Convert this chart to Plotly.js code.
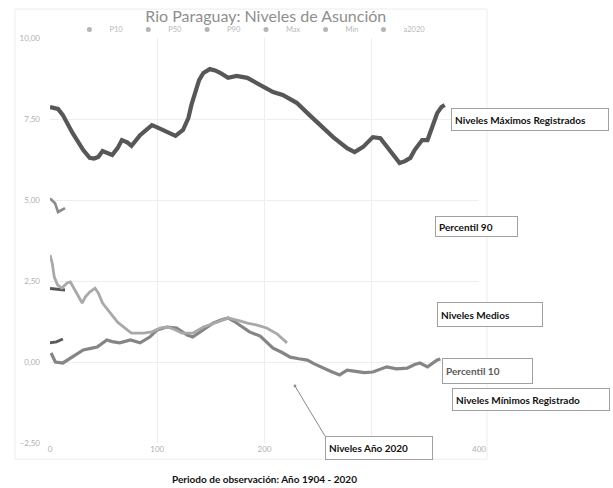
<!DOCTYPE html>
<html>
<head>
<meta charset="utf-8">
<script src="https://cdn.plot.ly/plotly-3.0.1.min.js"></script>
<style>html,body{margin:0;padding:0;background:#fff}#chart{width:613px;height:488px}</style>
</head>
<body>
<div id="chart"></div>
<script>
// ---- Data (day of year, level in m) ----
const maxDays = [0, 4, 7.5, 12, 21, 31, 37, 41, 45, 49, 53, 58, 63, 67, 72, 76, 84, 95, 100, 105, 111, 117, 124, 129, 132, 135, 139, 143, 149, 154, 159, 166, 174, 184, 196, 208, 217, 230, 242, 255, 264, 277, 284, 292, 301, 308, 317, 326, 331, 336, 340, 347, 352, 356, 361, 365, 368];
const maxVals = [7.87, 7.85, 7.81, 7.62, 7.07, 6.54, 6.30, 6.28, 6.33, 6.51, 6.46, 6.39, 6.60, 6.85, 6.78, 6.67, 7.00, 7.31, 7.24, 7.16, 7.06, 6.98, 7.16, 7.53, 7.95, 8.30, 8.70, 8.92, 9.04, 9.00, 8.92, 8.77, 8.83, 8.77, 8.55, 8.33, 8.24, 8.00, 7.62, 7.22, 6.94, 6.60, 6.48, 6.64, 6.94, 6.91, 6.54, 6.14, 6.20, 6.30, 6.54, 6.85, 6.85, 7.25, 7.68, 7.87, 7.93];

const p90Days = [0, 4.7, 7.5, 11, 14];
const p90Vals = [5.05, 4.90, 4.63, 4.69, 4.75];

const minDays = [0, 7, 14];
const minVals = [2.27, 2.25, 2.22];

const p10Days = [0, 6, 12];
const p10Vals = [0.59, 0.62, 0.71];

const p50Days = [1, 5, 12, 21, 31, 38, 44, 53, 58, 65, 75, 84, 93, 100, 109, 118, 123, 128, 133, 143, 152, 160, 166, 172, 177, 186, 196, 202, 208, 216, 224, 232, 240, 246, 252, 261, 270, 277, 285, 293, 301, 308, 314, 323, 333, 340, 345, 352, 357, 361, 364];
const p50Vals = [0.28, 0.00, -0.03, 0.15, 0.37, 0.42, 0.46, 0.68, 0.63, 0.59, 0.68, 0.59, 0.77, 0.99, 1.08, 1.05, 0.95, 0.83, 0.77, 0.99, 1.20, 1.30, 1.36, 1.25, 1.14, 0.93, 0.80, 0.62, 0.43, 0.30, 0.15, 0.10, 0.06, -0.05, -0.15, -0.28, -0.40, -0.25, -0.29, -0.33, -0.31, -0.22, -0.15, -0.21, -0.19, -0.08, -0.03, -0.15, -0.02, 0.06, 0.09];

const y2020Days = [0, 2, 4, 7, 11, 16, 19, 23, 30, 33, 37, 42, 45, 49, 56, 63, 72, 76, 87, 95, 103, 110, 117, 123, 133, 143, 156, 166, 177, 184, 193, 202, 212, 221];
const y2020Vals = [3.30, 3.06, 2.62, 2.38, 2.28, 2.44, 2.47, 2.22, 1.82, 2.01, 2.16, 2.28, 2.13, 1.82, 1.51, 1.23, 0.99, 0.89, 0.89, 0.93, 1.05, 1.08, 0.99, 0.89, 0.89, 1.08, 1.23, 1.36, 1.27, 1.20, 1.14, 1.05, 0.86, 0.59];

const legendNames = ['P10', 'P50', 'P90', 'Max', 'Min', 'a2020'];
const yTicks = [-2.5, 0, 2.5, 5, 7.5, 10];
const xTicks = [0, 100, 200, 300, 400];
const xTickText = ['0', '100', '200', '', '400']; // 300 is hidden behind the "Niveles Año 2020" box

const titleText = 'Rio Paraguay: Niveles de Asunción';
const xTitleText = 'Periodo de observación: Año 1904 - 2020';

const series = {
  P10:   {x: p10Days,  y: p10Vals,  color: '#5a5a5a', width: 3},
  P50:   {x: p50Days,  y: p50Vals,  color: '#858585', width: 3.2},
  P90:   {x: p90Days,  y: p90Vals,  color: '#8a8a8a', width: 2.6},
  Max:   {x: maxDays,  y: maxVals,  color: '#575757', width: 4.2},
  Min:   {x: minDays,  y: minVals,  color: '#555555', width: 3},
  a2020: {x: y2020Days, y: y2020Vals, color: '#a9a9a9', width: 2.8}
};

const traces = [];
legendNames.forEach(n => {
  const s = series[n];
  traces.push({
    type: 'scatter', mode: 'lines', x: s.x, y: s.y, name: n,
    legendgroup: n, showlegend: false,
    line: {color: s.color, width: s.width}
  });
});
// legend entries (dot symbols, as in the original legend)
legendNames.forEach(n => {
  traces.push({
    type: 'scatter', mode: 'markers', x: [null], y: [null], name: n,
    legendgroup: n, showlegend: true, hoverinfo: 'skip',
    marker: {color: '#b5b5b5', size: 5}
  });
});

const boxFont = {family: 'Lato, "Noto Sans", sans-serif', size: 10, color: '#111', weight: 700};
function box(text, x, y, w, h, extra) {
  return Object.assign({
    text: text, x: x, y: y, xref: 'x', yref: 'y',
    xanchor: 'left', yanchor: 'middle', align: 'left', showarrow: false,
    width: w, height: h, bgcolor: '#ffffff', bordercolor: '#a0a0a0',
    borderwidth: 1, borderpad: 3, font: boxFont
  }, extra || {});
}

const annotations = [
  box('Niveles Máximos Registrados', 374, 7.5, 150, 15),
  box('Percentil 90', 359, 4.18, 75, 13),
  box('Niveles Medios', 361, 1.48, 98, 17),
  box('Percentil 10', 365.5, -0.28, 83, 18, {font: Object.assign({}, boxFont, {color: '#5a5a5a'})}),
  box('Niveles Mínimos Registrado', 375, -1.17, 150, 15),
  {
    text: 'Niveles Año 2020', x: 228.4, y: -0.74, xref: 'x', yref: 'y',
    showarrow: true, ax: 30, ay: 50, xanchor: 'left', yanchor: 'top',
    arrowhead: 6, arrowsize: 0.7, arrowwidth: 1, arrowcolor: '#8a8a8a',
    width: 100, height: 16, align: 'left',
    bgcolor: '#ffffff', bordercolor: '#a0a0a0', borderwidth: 1, borderpad: 3,
    font: boxFont
  }
];

const layout = {
  width: 613, height: 488,
  margin: {l: 50, r: 134, t: 38, b: 45},
  paper_bgcolor: '#ffffff', plot_bgcolor: '#ffffff',
  separators: ',.',
  font: {family: 'Lato, "Noto Sans", sans-serif', color: '#999'},
  title: {
    text: titleText, xref: 'paper', x: 0.503, yref: 'container', y: 0.966,
    xanchor: 'center', yanchor: 'middle',
    font: {family: 'Lato, "Noto Sans", sans-serif', size: 16, color: '#8e8e8e'}
  },
  showlegend: true,
  legend: {
    orientation: 'h', x: 0.466, xanchor: 'center', y: 1.021, yanchor: 'middle',
    font: {size: 7.5, color: '#b8b8b8'}, bgcolor: 'rgba(0,0,0,0)',
    itemwidth: 30, tracegroupgap: 0
  },
  xaxis: {
    range: [0, 400], tickvals: xTicks, ticktext: xTickText, ticks: '', showline: false, zeroline: false,
    showgrid: true, gridcolor: '#eeeeee', gridwidth: 1,
    tickfont: {size: 8, color: '#b0b0b0'},
    title: {text: xTitleText, standoff: 22,
      font: {family: 'Lato, "Noto Sans", sans-serif', size: 10, color: '#111', weight: 700}}
  },
  yaxis: {
    range: [-2.5, 10], tickvals: yTicks, tickformat: '.2f', ticks: '',
    showline: false, zeroline: false, showgrid: true, gridcolor: '#eeeeee', gridwidth: 1,
    tickfont: {size: 8, color: '#b0b0b0'}, ticklabelstandoff: 9
  },
  shapes: [
    {type: 'rect', xref: 'paper', yref: 'paper', x0: -0.0816, x1: 1.0186, y0: -0.04, y1: 1.0716,
     line: {color: '#ececec', width: 1}, fillcolor: 'rgba(0,0,0,0)', layer: 'below'}
  ],
  annotations: annotations
};

Plotly.newPlot('chart', traces, layout, {displayModeBar: false, staticPlot: true});
</script>
</body>
</html>
